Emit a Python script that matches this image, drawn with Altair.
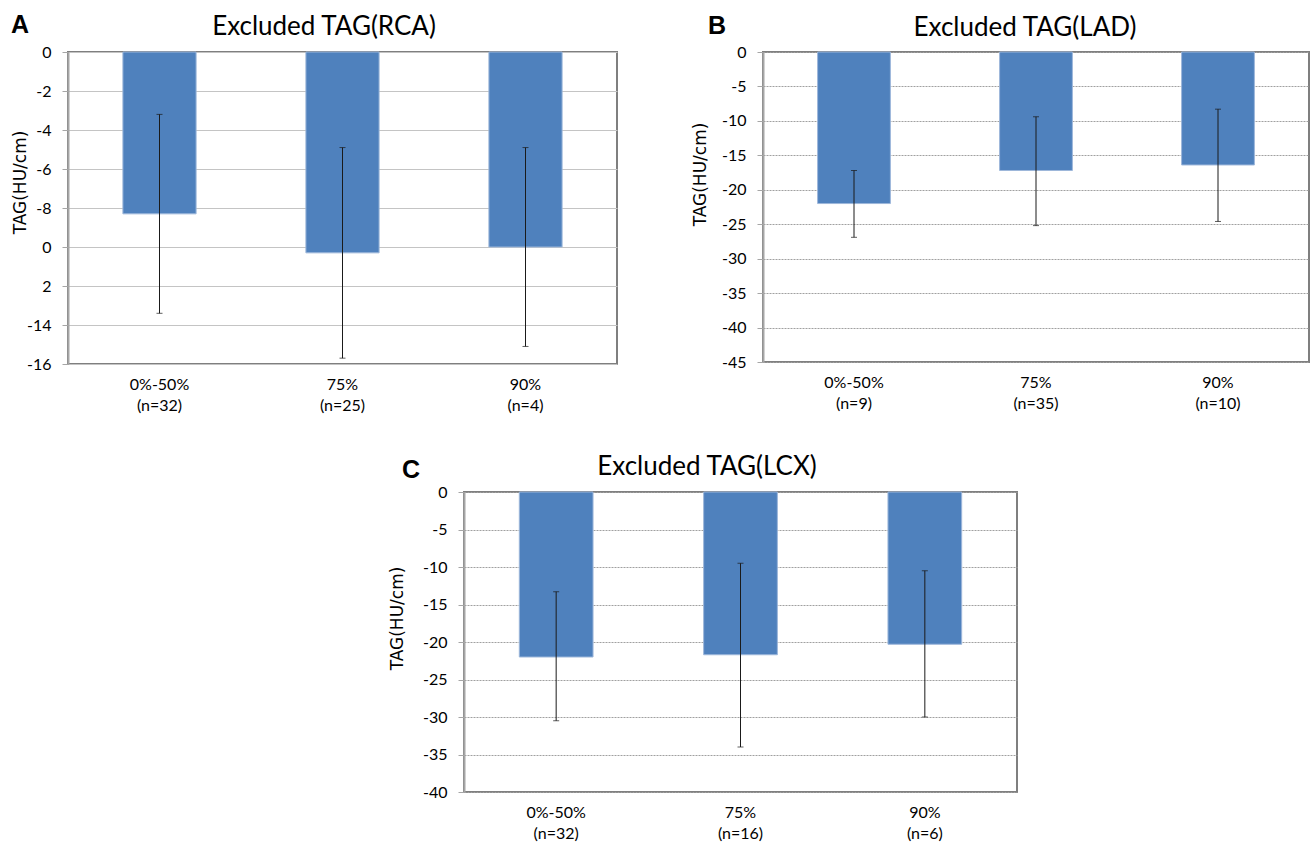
import json
import altair as alt
import pandas as pd

# ---------------- data ----------------
CATS_A = ["0%-50%|(n=32)", "75%|(n=25)", "90%|(n=4)"]
MEAN_A = [-8.3, -10.3, -10.0]
HI_A = [-3.2, -4.9, -4.9]
LO_A = [-13.4, -15.7, -15.1]
TICKS_A = [0, -2, -4, -6, -8, -10, -12, -14, -16]
TICK_LABELS_A = ["0", "-2", "-4", "-6", "-8", "0", "2", "-14", "-16"]

CATS_B = ["0%-50%|(n=9)", "75%|(n=35)", "90%|(n=10)"]
MEAN_B = [-22.0, -17.2, -16.4]
HI_B = [-17.2, -9.4, -8.3]
LO_B = [-26.9, -25.2, -24.6]
TICKS_B = [0, -5, -10, -15, -20, -25, -30, -35, -40, -45]
TICK_LABELS_B = ["0", "-5", "-10", "-15", "-20", "-25", "-30", "-35", "-40", "-45"]

CATS_C = ["0%-50%|(n=32)", "75%|(n=16)", "90%|(n=6)"]
MEAN_C = [-22.0, -21.7, -20.3]
HI_C = [-13.3, -9.5, -10.5]
LO_C = [-30.5, -34.0, -30.0]
TICKS_C = [0, -5, -10, -15, -20, -25, -30, -35, -40]
TICK_LABELS_C = ["0", "-5", "-10", "-15", "-20", "-25", "-30", "-35", "-40"]

BAR = "#4F81BD"
ERR = "#1a1a1a"
YTITLE = "TAG(HU/cm)"


def panel(letter, title, cats, mean, hi, lo, ticks, tick_labels, w, h,
          grid_dash, letter_x, letter_y, title_x, title_y, ytitle_x, ytitle_y):
    df = pd.DataFrame({"cat": cats, "mean": mean, "hi": hi, "lo": lo})
    base = alt.Chart(df)
    xscale = alt.Scale(paddingInner=0.6, paddingOuter=0.3)
    xaxis = alt.Axis(
        title=None, labelAngle=0, labelExpr="split(datum.label, '|')",
        domain=False, ticks=False, labelPadding=12, labelFontSize=16,
        labelLineHeight=21, labelFont="Lato", labelColor="#000", grid=False,
        labelOverlap=False,
    )
    yscale = alt.Scale(domain=[min(ticks), 0], nice=False, zero=True)
    label_expr = f"{json.dumps(tick_labels)}[indexof({json.dumps(ticks)}, datum.value)]"
    yaxis = alt.Axis(
        values=ticks, tickCount=len(ticks) + 2, labelExpr=label_expr, title=YTITLE,
        labelOverlap=False,
        titleX=ytitle_x, titleY=ytitle_y, titleAngle=270, titleAlign="center",
        titleBaseline="middle", titleFont="DejaVu Sans", titleFontSize=17,
        titleFontWeight="normal", titleColor="#000",
        labelFont="Lato", labelFontSize=16, labelColor="#000", labelPadding=11,
        tickSize=6, tickColor="#a6a6a6", domainColor="#a6a6a6", domainWidth=2,
        grid=True, gridColor="#a0a0a0" if grid_dash else "#c4c4c4",
        gridDash=grid_dash if grid_dash else [], gridWidth=1,
    )
    x = alt.X("cat:N", sort=cats, scale=xscale, axis=xaxis, title=None)
    x2 = alt.X("cat:N", sort=cats, title=None)
    bars = base.mark_bar(color=BAR, stroke="#9db7da", strokeWidth=1).encode(
        x=x, y=alt.Y("mean:Q", scale=yscale, axis=yaxis)
    )
    rules = base.mark_rule(color=ERR, strokeWidth=1).encode(
        x=x2, y=alt.Y("lo:Q", title=YTITLE), y2="hi:Q"
    )
    cap_lo = base.mark_tick(color=ERR, size=6, thickness=1, orient="horizontal").encode(
        x=x2, y=alt.Y("lo:Q", title=YTITLE)
    )
    cap_hi = base.mark_tick(color=ERR, size=6, thickness=1, orient="horizontal").encode(
        x=x2, y=alt.Y("hi:Q", title=YTITLE)
    )
    letter_t = alt.Chart(pd.DataFrame({"t": [letter]})).mark_text(
        font="Liberation Sans", fontSize=25, fontWeight="bold", align="left",
        baseline="middle", color="#000",
    ).encode(text="t:N", x=alt.value(letter_x), y=alt.value(letter_y))
    title_t = alt.Chart(pd.DataFrame({"t": [title]})).mark_text(
        font="Lato", fontSize=26, align="center", baseline="alphabetic", color="#000",
    ).encode(text="t:N", x=alt.value(title_x), y=alt.value(title_y))
    return alt.layer(bars, rules, cap_lo, cap_hi, letter_t, title_t).properties(
        width=w, height=h
    )


pA = panel("A", "Excluded TAG(RCA)", CATS_A, MEAN_A, HI_A, LO_A, TICKS_A, TICK_LABELS_A,
           549, 312, None, -57, -27, 256, -17, -48, 130)
pB = panel("B", "Excluded TAG(LAD)", CATS_B, MEAN_B, HI_B, LO_B, TICKS_B, TICK_LABELS_B,
           546, 310, [2, 1], -55, -26, 262, -16, -63, 122)
pC = panel("C", "Excluded TAG(LCX)", CATS_C, MEAN_C, HI_C, LO_C, TICKS_C, TICK_LABELS_C,
           553, 300, [2, 1], -62, -22, 243, -17, -67, 126)

spacer = alt.Chart(pd.DataFrame({"a": [0]})).mark_point(opacity=0).encode(
    x=alt.X("a:Q", axis=None), y=alt.Y("a:Q", axis=None)
).properties(width=396, height=10, view=alt.ViewBackground(stroke="transparent"))

top = alt.hconcat(pA, pB, spacing=146, bounds="flush")
bottom = alt.hconcat(spacer, pC, spacing=0, bounds="flush")

chart = alt.vconcat(top, bottom, spacing=39).configure_view(
    stroke="#7f7f7f", strokeWidth=2
).properties(
    padding={"left": 10, "top": 12, "right": 0, "bottom": 0}, background="white"
).resolve_scale(y="independent", x="independent")

chart.save("out.html", embed_options={"renderer": "svg", "actions": False})
